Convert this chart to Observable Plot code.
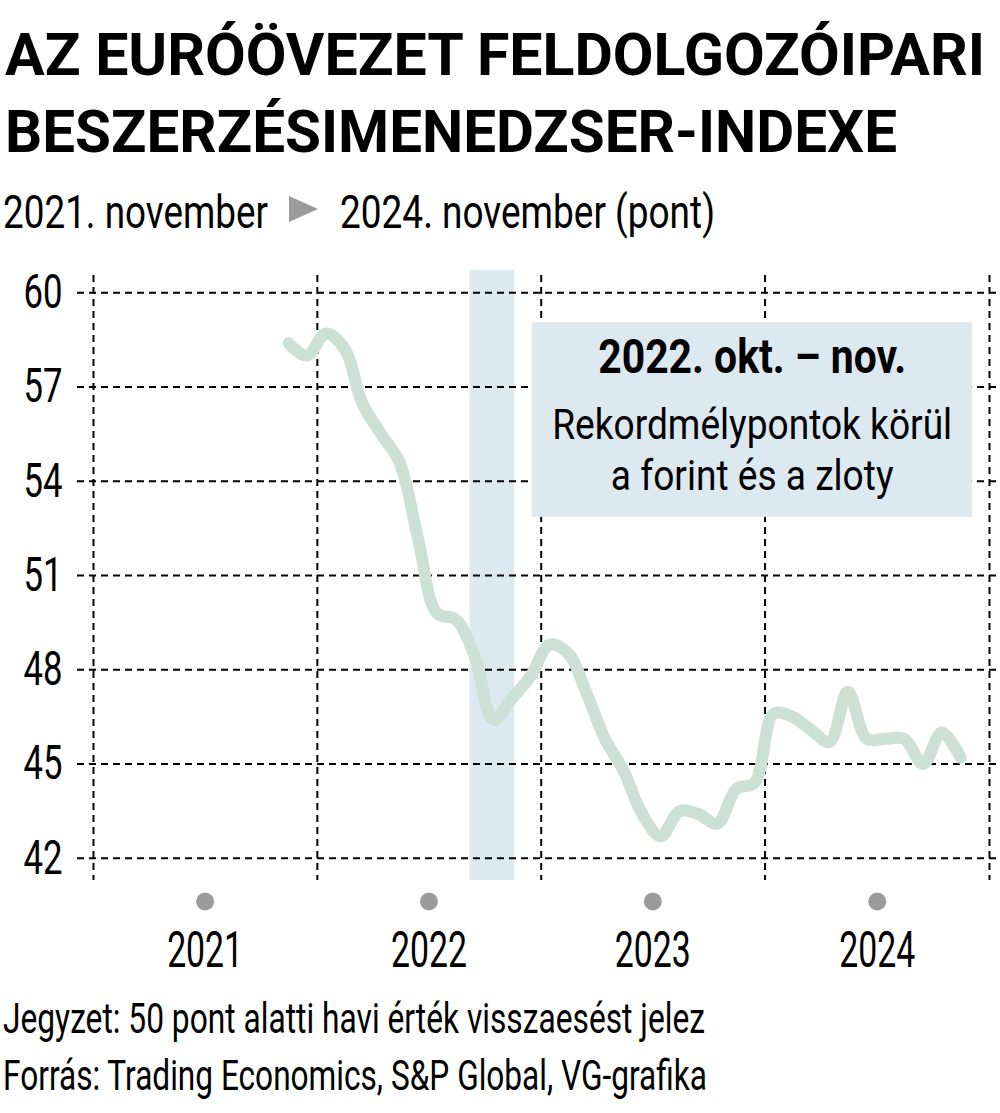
<!DOCTYPE html>
<html>
<head>
<meta charset="utf-8">
<script src="https://cdn.jsdelivr.net/npm/d3@7"></script>
<script src="https://cdn.jsdelivr.net/npm/@observablehq/plot@0.6"></script>
<style>
  html, body { margin: 0; padding: 0; background: #fff; }
  #page { position: relative; width: 1000px; height: 1113px; overflow: hidden; font-family: Roboto, "Noto Sans", sans-serif; color: #000; }
  .t { position: absolute; white-space: nowrap; line-height: 1; }
  .t span { display: inline-block; transform-origin: 0 0; }
  #chart { position: absolute; left: 0; top: 250px; }
</style>
</head>
<body>
<div id="page">
  <div class="t" id="title1" style="left:5px;top:25px;font-size:59px;font-weight:700"><span>AZ EURÓÖVEZET FELDOLGOZÓIPARI</span></div>
  <div class="t" id="title2" style="left:5px;top:102px;font-size:59px;font-weight:700"><span>BESZERZÉSIMENEDZSER-INDEXE</span></div>
  <div class="t" id="sub1" style="left:3px;top:189px;font-size:46px"><span>2021. november</span></div>
  <svg style="position:absolute;left:289px;top:196px" width="29" height="26"><polygon points="0,0 29,13 0,26" fill="#9b9b9b"/></svg>
  <div class="t" id="sub2" style="left:340px;top:189px;font-size:46px"><span>2024. november (pont)</span></div>
  <div id="chart"></div>
  <div class="t" id="note" style="left:3px;top:998px;font-size:42px"><span>Jegyzet: 50 pont alatti havi érték visszaesést jelez</span></div>
  <div class="t" id="src" style="left:3px;top:1055px;font-size:42px"><span>Forrás: Trading Economics, S&amp;P Global, VG-grafika</span></div>
</div>
<script>
// ---- data ----
const months = [
  "2021-11","2021-12",
  "2022-01","2022-02","2022-03","2022-04","2022-05","2022-06","2022-07","2022-08","2022-09","2022-10","2022-11","2022-12",
  "2023-01","2023-02","2023-03","2023-04","2023-05","2023-06","2023-07","2023-08","2023-09","2023-10","2023-11","2023-12",
  "2024-01","2024-02","2024-03","2024-04","2024-05","2024-06","2024-07","2024-08","2024-09","2024-10","2024-11"
];
const pmi = [
  58.4, 58.0,
  58.7, 58.2, 56.5, 55.5, 54.6, 52.1, 49.8, 49.6, 48.4, 46.4, 47.1, 47.8,
  48.8, 48.5, 47.3, 45.8, 44.8, 43.4, 42.7, 43.5, 43.4, 43.1, 44.2, 44.4,
  46.6, 46.5, 46.1, 45.7, 47.3, 45.8, 45.8, 45.8, 45.0, 46.0, 45.2
];
const yTicks = [42, 45, 48, 51, 54, 57, 60];
const years = [2021, 2022, 2023, 2024];
const highlight = { start: "2022-09-07", end: "2022-11-19" };
const noteTitle = "2022. okt. – nov.";
const noteLines = ["Rekordmélypontok körül", "a forint és a zloty"];

// ---- layout (not data) ----
const yDomain = [41.29, 60.71];
const box = { x1: "2022-12-17", x2: "2024-12-04", y1: 52.85, y2: 59.05 };
const noteY = [57.46, 55.36, 53.71];

const rows = months.map((m, i) => ({ date: new Date(m + "-15"), value: pmi[i] }));
const yearStarts = years.concat([years[years.length - 1] + 1]).map(y => new Date(Date.UTC(y, 0, 1)));
const yearMids = years.map(y => ({ date: new Date(Date.UTC(y, 6, 2)), label: String(y) }));
const boxCenter = new Date((new Date(box.x1).getTime() + new Date(box.x2).getTime()) / 2);

const dash = "7,5";
const plot = Plot.plot({
  width: 1000,
  height: 730,
  marginLeft: 93,
  marginRight: 11,
  marginTop: 20,
  marginBottom: 100,
  style: { fontFamily: "Roboto, 'Noto Sans', sans-serif", background: "transparent", overflow: "visible" },
  x: { type: "utc", domain: [yearStarts[0], yearStarts[yearStarts.length - 1]], axis: null },
  y: { domain: yDomain, axis: null },
  marks: [
    Plot.rect([highlight], { x1: d => new Date(d.start), x2: d => new Date(d.end), y1: () => yDomain[0], y2: () => yDomain[1], fill: "#dde9f1" }),
    Plot.ruleY(yTicks, { stroke: "#000", strokeWidth: 2, strokeDasharray: dash, insetLeft: -16, insetRight: -11 }),
    Plot.ruleX(yearStarts, { stroke: "#000", strokeWidth: 2, strokeDasharray: dash, insetTop: 5 }),
    Plot.rect([box], { x1: d => new Date(d.x1), x2: d => new Date(d.x2), y1: "y1", y2: "y2", fill: "#dde9f1" }),
    Plot.line(rows, { x: "date", y: "value", stroke: "#cde0d6", strokeWidth: 12, curve: "catmull-rom", strokeLinecap: "round", strokeLinejoin: "round" }),
    Plot.text(yTicks, { y: d => d, text: d => String(d), frameAnchor: "left", dx: -31, textAnchor: "end", fontSize: 48, fill: "#000" }),
    Plot.dot(yearMids, { x: "date", frameAnchor: "bottom", dy: 21, r: 9, fill: "#9b9b9b", stroke: null }),
    Plot.text(yearMids, { x: "date", text: "label", frameAnchor: "bottom", dy: 86, lineAnchor: "bottom", fontSize: 50, fill: "#000" }),
    Plot.text([noteTitle], { x: () => boxCenter, y: () => noteY[0], text: d => d, lineAnchor: "bottom", fontSize: 48, fontWeight: 700, fill: "#000" }),
    Plot.text(noteLines, { x: () => boxCenter, y: (d, i) => noteY[i + 1], text: d => d, lineAnchor: "bottom", fontSize: 42, fill: "#000" })
  ]
});
document.getElementById("chart").appendChild(plot);

// ---- condense text to match the narrow typeface ----
// text marks in order: y labels, x labels, note title, note lines
const textGroups = plot.querySelectorAll('g[aria-label="text"]');
function condenseGroup(g, sampleIndex, targetWidth) {
  if (!g) return;
  const texts = g.querySelectorAll("text");
  if (!texts.length) return;
  const nat = texts[sampleIndex].getComputedTextLength();
  if (!nat) return;
  const k = targetWidth / nat;
  texts.forEach(t => {
    const tr = t.getAttribute("transform") || "";
    t.setAttribute("transform", tr + ` scale(${k},1)`);
  });
}
condenseGroup(textGroups[0], 0, 39);
condenseGroup(textGroups[1], 0, 76);
condenseGroup(textGroups[2], 0, 308);
condenseGroup(textGroups[3], 0, 400);

function fitHTML(id, w) {
  const s = document.querySelector("#" + id + " span");
  const n = s.getBoundingClientRect().width;
  s.style.transform = `scaleX(${w / n})`;
}
fitHTML("title1", 980);
fitHTML("title2", 892);
fitHTML("sub1", 265);
fitHTML("sub2", 375);
fitHTML("note", 702);
fitHTML("src", 704);
</script>
</body>
</html>
